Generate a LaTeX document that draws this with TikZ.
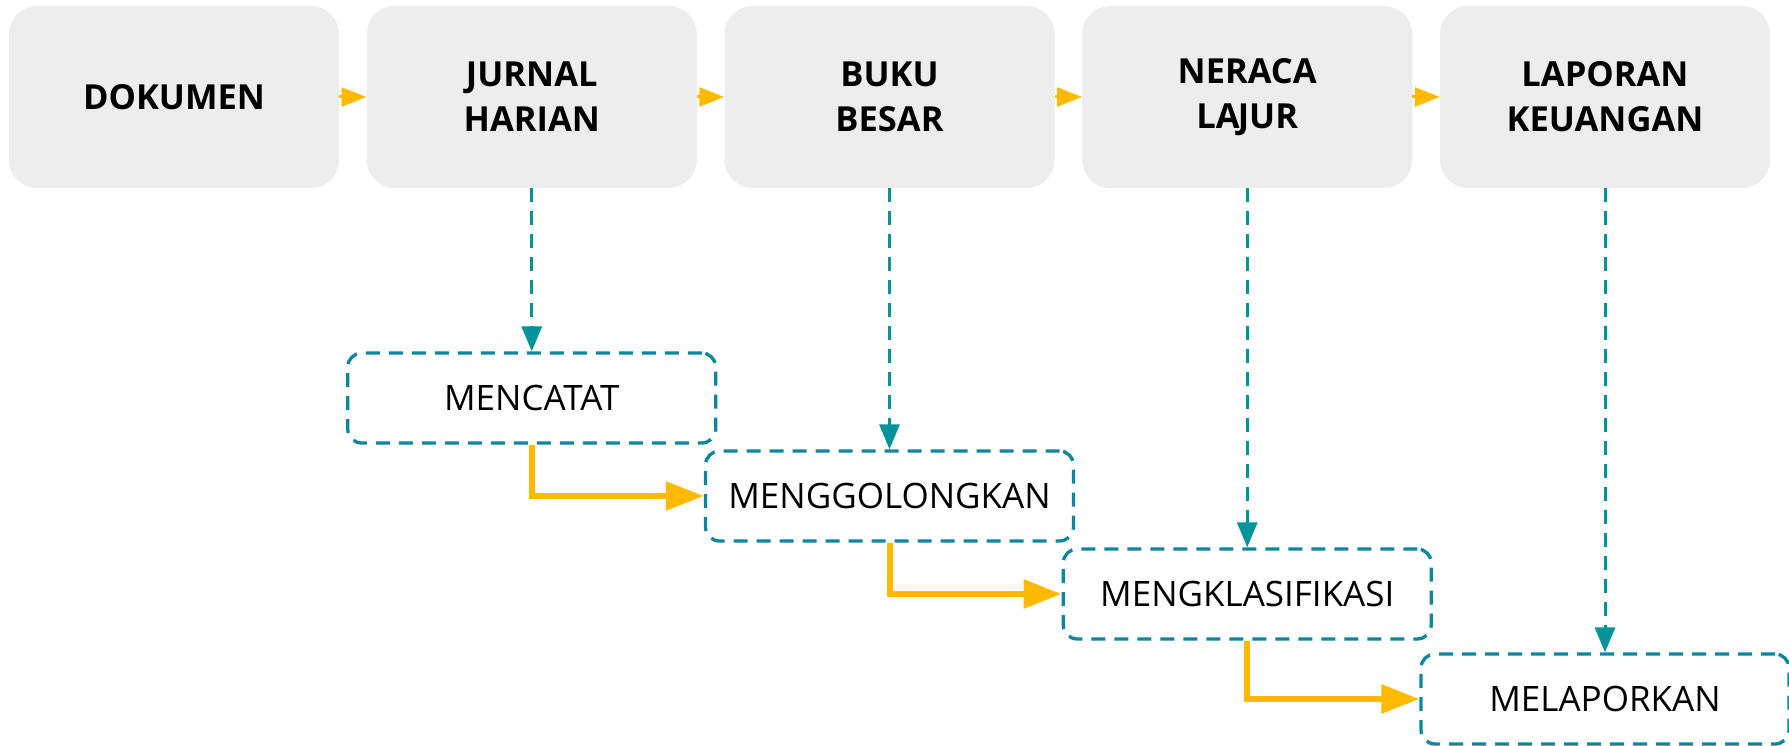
\documentclass[tikz,border=0pt]{standalone}
\usepackage{fontspec}
\setmainfont{Open Sans}
\usetikzlibrary{arrows.meta}
\definecolor{boxgray}{HTML}{EDEDED}
\definecolor{flowyellow}{HTML}{FFBA00}
\definecolor{linkteal}{HTML}{009399}
\definecolor{frameteal}{HTML}{0E869E}
\tikzset{
  stagebox/.style={fill=boxgray, rounded corners=28pt, minimum width=330pt,
    minimum height=182pt, inner sep=0pt, align=center,
    font=\fontsize{34.5}{45}\selectfont\bfseries},
  taskbox/.style={draw=frameteal, line width=3.3pt, dash pattern=on 14pt off 9pt,
    rounded corners=14pt, fill=white, minimum width=368pt, minimum height=90pt,
    inner sep=0pt, font=\fontsize{35}{40}\selectfont},
  stagelink/.style={draw=flowyellow, line width=3pt,
    -{Triangle[width=19pt,length=25pt]}},
  tasklink/.style={draw=flowyellow, line width=6pt,
    -{Triangle[width=28pt,length=38pt]}},
  droplink/.style={draw=linkteal, line width=3pt, dash pattern=on 14pt off 9pt,
    -{Triangle[width=20pt,length=25pt]}},
}
\begin{document}
\begin{tikzpicture}[x=1pt,y=-1pt]
  \useasboundingbox (0,0) rectangle (1789,746);
  % upper row of stages
  \node[stagebox] (s1) at (174,97)     {DOKUMEN};
  \node[stagebox] (s2) at (531.75,97)  {JURNAL\\HARIAN};
  \node[stagebox] (s3) at (889.5,97)   {BUKU\\BESAR};
  \node[stagebox] (s4) at (1247.25,97) {NERACA\\LA\kern-2pt JUR};
  \node[stagebox] (s5) at (1605,97)    {LAPORAN\\KEUANGAN};
  \draw[stagelink] (s1.east) -- (s2.west);
  \draw[stagelink] (s2.east) -- (s3.west);
  \draw[stagelink] (s3.east) -- (s4.west);
  \draw[stagelink] (s4.east) -- (s5.west);
  % staircase of activities
  \node[taskbox] (t1) at (531.75,398)  {MENCATAT};
  \node[taskbox] (t2) at (889.5,496)   {MENGGOLONGKAN};
  \node[taskbox] (t3) at (1247.25,594) {MENGKLASIFIKASI};
  \node[taskbox] (t4) at (1605,699)    {MELAPORKAN};
  \draw[droplink] (s2.south) -- (t1.north);
  \draw[droplink] (s3.south) -- (t2.north);
  \draw[droplink] (s4.south) -- (t3.north);
  \draw[droplink] (s5.south) -- (t4.north);
  \draw[tasklink] (t1.south) |- (t2.west);
  \draw[tasklink] (t2.south) |- (t3.west);
  \draw[tasklink] (t3.south) |- (t4.west);
\end{tikzpicture}
\end{document}
